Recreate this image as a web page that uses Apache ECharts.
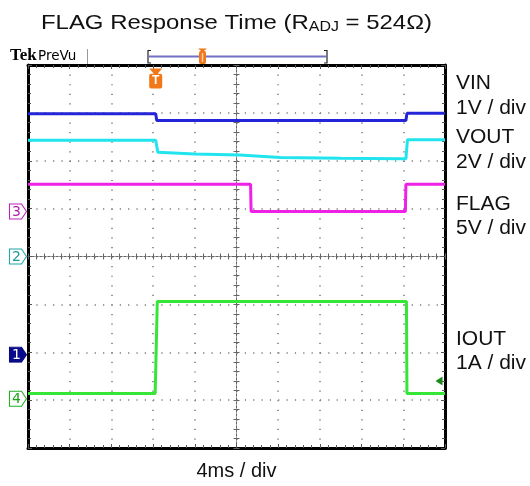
<!DOCTYPE html>
<html><head><meta charset="utf-8">
<script src="https://cdn.jsdelivr.net/npm/echarts@6/dist/echarts.min.js"></script>
<style>html,body{margin:0;padding:0;background:#fff}#c{width:530px;height:486px}</style>
</head><body><div id="c"></div>
<script>
// Time (ms) and trace level (in screen divisions from the bottom edge)
const vinT   = [0, 12.25, 12.35, 36.25, 36.35, 40];
const vinDiv = [6.98, 6.98, 6.84, 6.84, 6.99, 6.99];
const voutT   = [0, 12.25, 12.45, 16, 20.3, 24.2, 30, 35.7, 36.25, 36.4, 40];
const voutDiv = [6.43, 6.43, 6.18, 6.14, 6.12, 6.07, 6.05, 6.04, 6.04, 6.44, 6.44];
const flagT   = [0, 21.35, 21.4, 36.2, 36.25, 40];
const flagDiv = [5.51, 5.51, 4.94, 4.94, 5.51, 5.51];
const ioutT   = [0, 12.2, 12.4, 36.3, 36.35, 40];
const ioutDiv = [1.14, 1.14, 3.06, 3.06, 1.14, 1.14];
const channelNames = ['VIN', 'VOUT', 'FLAG', 'IOUT'];
const channelScales = ['1V / div', '2V / div', '5V / div', '1A / div'];
const channelRefs = { '1': 1.95, '2': 4.0, '3': 4.94, '4': 1.03 };
const triggerTime = 12.25;
const triggerLevel = 1.40;
const xLabel = '4ms / div';

const pair = (t, v) => t.map((x, i) => [x, v[i]]);
const COL = { vin: '#2424d8', vout: '#22e4ee', flag: '#ee22e6', iout: '#36e636' };
const chevron = 'path://M0,0 L12,0 L17,7.5 L12,15 L0,15 Z';

function refMarker(name, border, fill, txt) {
  return {
    coord: [0, channelRefs[name]], symbol: chevron, symbolSize: [17, 15], symbolOffset: [-10, 0],
    itemStyle: { color: fill, borderColor: border, borderWidth: 1 },
    label: { show: true, formatter: name, color: txt, fontSize: 14, fontFamily: 'DejaVu Sans', offset: [-1.5, 0.5] }
  };
}

const frameAxisX = (pos) => ({
  type: 'value', min: 0, max: 40, interval: 4, position: pos,
  axisLine: { show: true, onZero: false, lineStyle: { color: '#000', width: 3 } },
  axisTick: { show: true, inside: true, length: 4, lineStyle: { color: '#555' } },
  minorTick: { show: true, splitNumber: 5, length: 3, lineStyle: { color: '#555' } },
  axisLabel: { show: false }, splitLine: { show: false }
});
const frameAxisY = (pos) => ({
  type: 'value', min: 0, max: 8, interval: 1, position: pos,
  axisLine: { show: true, onZero: false, lineStyle: { color: '#000', width: 3 } },
  axisTick: { show: true, inside: true, length: 4, lineStyle: { color: '#555' } },
  minorTick: { show: true, splitNumber: 5, length: 3, lineStyle: { color: '#555' } },
  axisLabel: { show: false }, splitLine: { show: false }
});
const centerAxisX = (inside) => ({
  type: 'value', min: 0, max: 40, interval: 4, position: 'bottom', offset: -191.5,
  axisLine: { show: true, onZero: false, lineStyle: { color: '#666', width: 1, type: [2, 2] } },
  axisTick: { show: true, inside: inside, length: 3, lineStyle: { color: '#666' } },
  minorTick: { show: true, splitNumber: 5, length: 3, lineStyle: { color: '#666' } },
  axisLabel: { show: false }, splitLine: { show: false }
});
const centerAxisY = (inside) => ({
  type: 'value', min: 0, max: 8, interval: 1, position: 'left', offset: -208.5,
  axisLine: { show: true, onZero: false, lineStyle: { color: '#666', width: 1, type: [2, 2] } },
  axisTick: { show: true, inside: inside, length: 3, lineStyle: { color: '#666' } },
  minorTick: { show: true, splitNumber: 5, length: 3, lineStyle: { color: '#666' } },
  axisLabel: { show: false }, splitLine: { show: false }
});

const xMain = frameAxisX('bottom');
xMain.splitLine = { show: true, lineStyle: { color: '#777', width: 1.5, type: [1.2, 8.375] } };
xMain.name = xLabel; xMain.nameLocation = 'middle'; xMain.nameGap = 13;
xMain.nameTextStyle = { fontSize: 20, color: '#111', fontFamily: 'Liberation Sans' };
const yMain = frameAxisY('left');
yMain.splitLine = { show: true, lineStyle: { color: '#777', width: 1.5, type: [1.2, 7.14] } };

const lineSeries = (name, data, color, extra) => Object.assign({
  name, type: 'line', data, showSymbol: false, xAxisIndex: 0, yAxisIndex: 0,
  lineStyle: { color, width: 3 }, itemStyle: { color }, z: 5, animation: false
}, extra || {});

const sideText = [];
const sideY = [[83, 108], [137, 162], [204, 228], [339, 363]];
channelNames.forEach((n, i) => {
  sideText.push({ type: 'text', x: 456, y: sideY[i][0], scaleX: 1.05, style: { text: n, fontSize: 20, fontFamily: 'Liberation Sans', fill: '#111', verticalAlign: 'middle' } });
  sideText.push({ type: 'text', x: 456, y: sideY[i][1], scaleX: 1.05, style: { text: channelScales[i], fontSize: 20, fontFamily: 'Liberation Sans', fill: '#111', verticalAlign: 'middle' } });
});

const chart = echarts.init(document.getElementById('c'), null, { renderer: 'canvas' });
chart.setOption({
  animation: false,
  backgroundColor: '#fff',
  grid: { left: 28, top: 65, width: 417, height: 383, outerBoundsMode: 'none', containLabel: false },
  xAxis: [xMain, frameAxisX('top'), centerAxisX(false), centerAxisX(true)],
  yAxis: [yMain, frameAxisY('right'), centerAxisY(false), centerAxisY(true)],
  series: [
    lineSeries('VIN', pair(vinT, vinDiv), COL.vin, { markPoint: { silent: true, data: [refMarker('1', '#0a0a80', '#0a0a8c', '#fff')] } }),
    lineSeries('VOUT', pair(voutT, voutDiv), COL.vout, { markPoint: { silent: true, data: [refMarker('2', '#1fa8a8', '#fff', '#1a9a9a')] } }),
    lineSeries('FLAG', pair(flagT, flagDiv), COL.flag, { markPoint: { silent: true, data: [refMarker('3', '#c020c0', '#fff', '#b01cb0')] } }),
    lineSeries('IOUT', pair(ioutT, ioutDiv), COL.iout, { markPoint: { silent: true, data: [
      refMarker('4', '#22b022', '#fff', '#1fa01f'),
      { coord: [40, triggerLevel], symbol: 'path://M0,5 L7,0 L7,10 Z', symbolSize: [7, 9], symbolOffset: [-6, 0], itemStyle: { color: '#1a8a1a' }, label: { show: false } },
      { coord: [triggerTime, 8], symbol: 'path://M0,0 L14,0 L9,5 L12,5 Q14,5 14,7 L14,17 Q14,19 12,19 L2,19 Q0,19 0,17 L0,7 Q0,5 2,5 L5,5 Z', symbolSize: [13, 20], symbolOffset: [0, 13.5], itemStyle: { color: '#f07818' }, label: { show: true, formatter: 'T', color: '#fff', fontSize: 12, fontWeight: 'bold', offset: [0, 2.5] } }
    ] } })
  ],
  graphic: [
    { type: 'text', x: 236.5, y: 8, scaleX: 1.14, style: {
      text: '{a|FLAG Response Time (R}{b|ADJ}{a| = 524Ω)}', align: 'center',
      rich: { a: { fontSize: 21, fontFamily: 'Liberation Sans', fill: '#111', lineHeight: 26, verticalAlign: 'bottom' },
              b: { fontSize: 14, fontFamily: 'Liberation Sans', fill: '#111', lineHeight: 22, verticalAlign: 'bottom' } } } },
    { type: 'text', x: 10, y: 56, style: { text: 'Tek', font: 'bold 17px "Liberation Serif"', fill: '#000', verticalAlign: 'middle' } },
    { type: 'text', x: 38, y: 56, style: { text: 'PreVu', font: '13.5px "DejaVu Sans"', fill: '#000', verticalAlign: 'middle' } },
    { type: 'line', shape: { x1: 87.5, y1: 49, x2: 87.5, y2: 64 }, style: { stroke: '#999', lineWidth: 1 } },
    { type: 'line', shape: { x1: 149, y1: 56.5, x2: 326, y2: 56.5 }, style: { stroke: '#7070c4', lineWidth: 2 } },
    { type: 'polyline', shape: { points: [[151, 50.5], [148, 50.5], [148, 63], [151, 63]] }, style: { stroke: '#222', lineWidth: 1.2, fill: null } },
    { type: 'polyline', shape: { points: [[324, 50.5], [327, 50.5], [327, 63], [324, 63]] }, style: { stroke: '#222', lineWidth: 1.2, fill: null } },
    { type: 'rect', shape: { x: 199, y: 51, width: 7, height: 13, r: 2 }, style: { fill: '#f07818' } },
    { type: 'polygon', shape: { points: [[198, 48.5], [207, 48.5], [202.5, 52]] }, style: { fill: '#f07818' } },
    { type: 'line', shape: { x1: 202.5, y1: 53, x2: 202.5, y2: 62 }, style: { stroke: '#fbd0a8', lineWidth: 1.5 } }
  ].concat(sideText)
});
</script></body></html>
